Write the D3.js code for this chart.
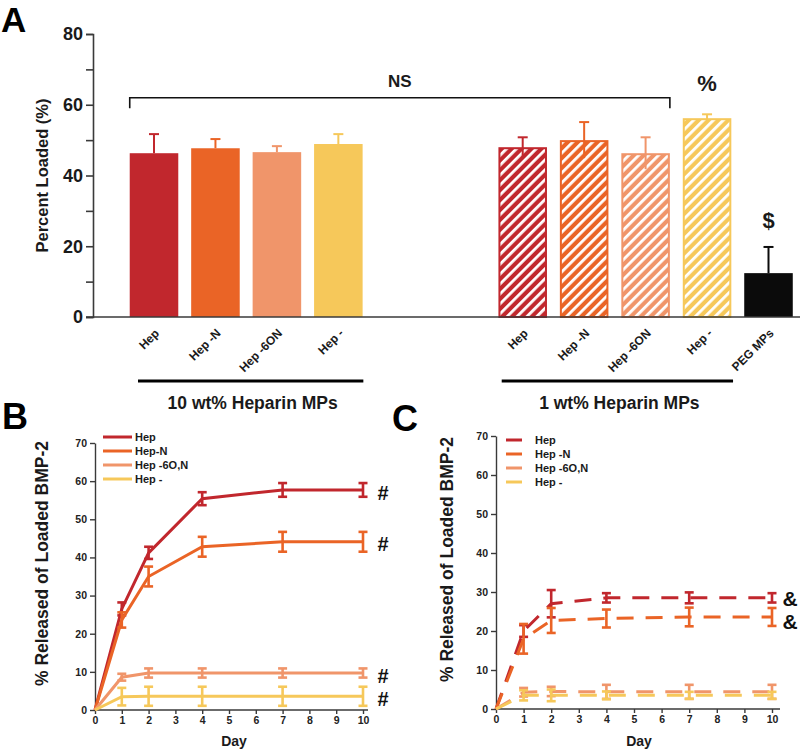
<!DOCTYPE html>
<html><head><meta charset="utf-8">
<script src="https://cdn.jsdelivr.net/npm/d3@7"></script>
<style>
body{margin:0;background:#fff;}
svg{display:block;font-family:"Liberation Sans",Arial,sans-serif;font-weight:bold;}
</style></head>
<body>
<svg id="chart" width="800" height="751"></svg>
<script>
// ---------- DATA ----------
const seriesColors = ["#c1272d", "#ea6426", "#f0956a", "#f6c85a"];
const pegColor = "#0b0b0b";

// Panel A
const barLabels10 = ["Hep", "Hep -N", "Hep -6ON", "Hep -"];
const barValues10 = [46.3, 47.7, 46.6, 48.9];
const barErrors10 = [5.4, 2.6, 1.7, 2.8];
const barLabels1 = ["Hep", "Hep -N", "Hep -6ON", "Hep -", "PEG MPs"];
const barValues1 = [48.0, 50.0, 46.3, 56.2, 12.4];
const barErrors1 = [2.8, 5.1, 4.5, 1.1, 7.4];
const groupLabels = ["10 wt% Heparin MPs", "1 wt% Heparin MPs"];
const yTicksA = [0, 10, 20, 30, 40, 50, 60, 70, 80];

// Panels B and C
const days = [0, 1, 2, 4, 7, 10];
const dayTicks = [0, 1, 2, 3, 4, 5, 6, 7, 8, 9, 10];
const releaseTicks = [0, 10, 20, 30, 40, 50, 60, 70];
const legendB = ["Hep", "Hep-N", "Hep -6O,N", "Hep -"];
const legendC = ["Hep", "Hep -N", "Hep -6O,N", "Hep -"];

const bHep = [0, 26.5, 41.2, 55.4, 57.7, 57.7];
const bHepErr = [0, 1.7, 1.6, 1.7, 1.8, 1.8];
const bHepN = [0, 23.6, 35.0, 42.8, 44.1, 44.1];
const bHepNErr = [0, 2.0, 2.6, 2.6, 2.6, 2.6];
const bHep6ON = [0, 8.6, 9.7, 9.7, 9.7, 9.7];
const bHep6ONErr = [0, 0.9, 1.2, 1.2, 1.2, 1.2];
const bHepMinus = [0, 3.5, 3.6, 3.6, 3.6, 3.6];
const bHepMinusErr = [0, 2.3, 2.5, 2.5, 2.5, 2.5];

const cHep = [0, 20.0, 27.0, 28.5, 28.5, 28.5];
const cHepErr = [0, 1.5, 3.5, 1.2, 1.4, 1.2];
const cHepN = [0, 18.0, 22.7, 23.2, 23.6, 23.6];
const cHepNErr = [0, 3.8, 3.2, 2.3, 2.4, 2.3];
const cHep6ON = [0, 4.3, 4.5, 4.4, 4.4, 4.4];
const cHep6ONErr = [0, 1.1, 1.2, 1.8, 1.8, 1.8];
const cHepMinus = [0, 3.5, 3.5, 3.5, 3.5, 3.5];
const cHepMinusErr = [0, 1.3, 1.5, 1.0, 0.9, 0.9];

// ---------- DRAW ----------
const svg = d3.select("#chart");
const defs = svg.append("defs");
const textCol = "#1a1a1a";
const axisCol = "#3a3a3a";

seriesColors.forEach((c, i) => {
  const p = defs.append("pattern").attr("id", "hatch" + i)
    .attr("patternUnits", "userSpaceOnUse").attr("width", 7).attr("height", 7)
    .attr("patternTransform", "rotate(45)");
  p.append("rect").attr("width", 7).attr("height", 7).attr("fill", c);
  p.append("rect").attr("width", 2.8).attr("height", 7).attr("fill", "#fff");
});

// ===== Panel A =====
const slots = d3.range(11);
const xA = d3.scalePoint().domain(slots).range([154, 768.5]);
const barW = xA.step() * 0.79;
const yA = d3.scaleLinear().domain([0, 80]).range([317, 34]);

const barsA = [];
barLabels10.forEach((l, i) => barsA.push({slot: i, label: l, v: barValues10[i], e: barErrors10[i], color: seriesColors[i], hatch: false, idx: i}));
barLabels1.forEach((l, i) => barsA.push({slot: 6 + i, label: l, v: barValues1[i], e: barErrors1[i], color: i < 4 ? seriesColors[i] : pegColor, hatch: i < 4, idx: i}));

const gA = svg.append("g");
barsA.filter(d => !d.hatch).forEach(d => {
  const cx = xA(d.slot);
  const eg = gA.append("g").attr("stroke", d.color).attr("stroke-width", 2);
  eg.append("line").attr("x1", cx).attr("x2", cx).attr("y1", yA(d.v)).attr("y2", yA(d.v + d.e));
  eg.append("line").attr("x1", cx - 5).attr("x2", cx + 5).attr("y1", yA(d.v + d.e)).attr("y2", yA(d.v + d.e));
});
gA.selectAll("rect.bar").data(barsA).join("rect").attr("class", "bar")
  .attr("x", d => xA(d.slot) - barW / 2 + (d.hatch ? 1 : 0))
  .attr("width", d => barW - (d.hatch ? 2 : 0))
  .attr("y", d => yA(d.v) + (d.hatch ? 1 : 0))
  .attr("height", d => yA(0) - yA(d.v) - (d.hatch ? 1 : 0))
  .attr("fill", d => d.hatch ? `url(#hatch${d.idx})` : d.color)
  .attr("stroke", d => d.hatch ? d.color : "none")
  .attr("stroke-width", 2);
barsA.filter(d => d.hatch).forEach(d => {
  const cx = xA(d.slot);
  const eg = gA.append("g").attr("stroke", d.color).attr("stroke-width", 2);
  eg.append("line").attr("x1", cx).attr("x2", cx).attr("y1", yA(d.v - d.e)).attr("y2", yA(d.v + d.e));
  eg.append("line").attr("x1", cx - 5).attr("x2", cx + 5).attr("y1", yA(d.v + d.e)).attr("y2", yA(d.v + d.e));
});
// y axis
const axA = svg.append("g").attr("transform", "translate(93,0)")
  .call(d3.axisLeft(yA).tickValues(yTicksA).tickSize(7).tickPadding(3)
    .tickFormat(v => v % 20 === 0 ? v : ""));
axA.select(".domain").attr("stroke", axisCol).attr("stroke-width", 1.6);
axA.selectAll(".tick line").attr("stroke", axisCol).attr("stroke-width", 1.6);
axA.selectAll(".tick text").attr("fill", textCol).style("font-size", "18px").style("font-weight", "bold").style("font-family", "Liberation Sans, Arial");
// baseline
svg.append("line").attr("x1", 86).attr("x2", 800).attr("y1", yA(0)).attr("y2", yA(0))
  .attr("stroke", axisCol).attr("stroke-width", 1.6);
// y title
svg.append("text").attr("transform", `translate(48,${yA(40)}) rotate(-90)`)
  .attr("text-anchor", "middle").attr("font-size", 16.5).attr("fill", textCol).text("Percent Loaded (%)");
// x tick labels
gA.selectAll("text.xl").data(barsA).join("text").attr("class", "xl")
  .attr("transform", d => `translate(${xA(d.slot) + 3},${331}) rotate(-45)`)
  .attr("text-anchor", "end").attr("dy", "0.35em").attr("font-size", 12).attr("fill", textCol)
  .text(d => d.label);
// group lines
const groups = [
  {x1: xA(0) - 16, x2: xA(3) + 25, label: groupLabels[0]},
  {x1: xA(6) - 21, x2: xA(9) + 26, label: groupLabels[1]}
];
groups.forEach(g => {
  svg.append("line").attr("x1", g.x1).attr("x2", g.x2).attr("y1", 381).attr("y2", 381)
    .attr("stroke", "#000").attr("stroke-width", 3);
  svg.append("text").attr("x", (g.x1 + g.x2) / 2 + 2).attr("y", 409).attr("text-anchor", "middle")
    .attr("font-size", 17.5).attr("fill", textCol).text(g.label);
});
// NS bracket
const bx1 = xA(0) - barW / 2, bx2 = xA(8) + barW / 2;
svg.append("path").attr("d", `M${bx1},${yA(59)}V${yA(62)}H${bx2}V${yA(59)}`)
  .attr("fill", "none").attr("stroke", "#111").attr("stroke-width", 1.6);
svg.append("text").attr("x", (bx1 + bx2) / 2).attr("y", yA(65)).attr("text-anchor", "middle")
  .attr("font-size", 17).attr("fill", textCol).text("NS");
svg.append("text").attr("x", xA(9)).attr("y", yA(63.8)).attr("text-anchor", "middle")
  .attr("font-size", 22).attr("fill", textCol).text("%");
svg.append("text").attr("x", xA(10)).attr("y", yA(25.3)).attr("text-anchor", "middle")
  .attr("font-size", 22).attr("fill", textCol).text("$");

// panel letters
svg.append("text").attr("x", 1).attr("y", 32).attr("font-size", 35).attr("fill", "#000").text("A");
svg.append("text").attr("x", 2).attr("y", 429).attr("font-size", 36).attr("fill", "#000").text("B");
svg.append("text").attr("x", 392).attr("y", 431).attr("font-size", 36).attr("fill", "#000").text("C");

// ===== Panels B & C =====
function linePanel(cfg) {
  const x = d3.scaleLinear().domain([0, 10]).range(cfg.xr);
  const y = d3.scaleLinear().domain([0, 70]).range(cfg.yr);
  const g = svg.append("g");
  const ax = g.append("g").attr("transform", `translate(0,${cfg.yr[0]})`)
    .call(d3.axisBottom(x).tickValues(dayTicks).tickSize(4).tickSizeOuter(0).tickPadding(3));
  ax.select(".domain").remove();
  g.append("line").attr("x1", cfg.xr[0]).attr("x2", cfg.xr[1] + cfg.ext).attr("y1", cfg.yr[0]).attr("y2", cfg.yr[0])
    .attr("stroke", axisCol).attr("stroke-width", 1.4);
  const ay = g.append("g").attr("transform", `translate(${cfg.xr[0]},0)`)
    .call(d3.axisLeft(y).tickValues(releaseTicks).tickSize(5).tickSizeOuter(0).tickPadding(3));
  [ax, ay].forEach(a => {
    a.select(".domain").attr("stroke", axisCol).attr("stroke-width", 1.4);
    a.selectAll(".tick line").attr("stroke", axisCol).attr("stroke-width", 1.4);
    a.selectAll(".tick text").attr("fill", "#222").style("font-size", "10.5px").style("font-weight", "bold").style("font-family", "Liberation Sans, Arial");
  });
  g.append("text").attr("x", (cfg.xr[0] + cfg.xr[1]) / 2 + 5).attr("y", 746).attr("text-anchor", "middle")
    .attr("font-size", 14).attr("fill", textCol).text("Day");
  g.append("text").attr("transform", `translate(${cfg.titleX},${(cfg.yr[0] + cfg.yr[1]) / 2 - 13}) rotate(-90)`)
    .attr("text-anchor", "middle").attr("font-size", 17.5).attr("fill", textCol).text("% Released of Loaded BMP-2");

  const line = d3.line().x((d, i) => x(days[i])).y(d => y(d));
  cfg.series.forEach((s, si) => {
    const col = seriesColors[si];
    const sg = g.append("g");
    s.v.forEach((v, i) => {
      if (!s.e[i]) return;
      const cx = x(days[i]);
      const eg = sg.append("g").attr("stroke", col).attr("stroke-width", 2.6);
      eg.append("line").attr("x1", cx).attr("x2", cx).attr("y1", y(v - s.e[i])).attr("y2", y(v + s.e[i]));
      [v - s.e[i], v + s.e[i]].forEach(t => eg.append("line").attr("x1", cx - 4.5).attr("x2", cx + 4.5).attr("y1", y(t)).attr("y2", y(t)));
    });
    sg.append("path").datum(s.v).attr("d", line).attr("fill", "none").attr("stroke", col)
      .attr("stroke-width", 3).attr("stroke-dasharray", cfg.dash || null);
  });
  cfg.series.forEach((s, si) => {
    if (!cfg.marks[si]) return;
    g.append("text").attr("x", x(10) + cfg.markDx).attr("y", y(s.v[5]) + cfg.markDy[si])
      .attr("text-anchor", "middle").attr("dominant-baseline", "central")
      .attr("font-size", cfg.markSize).attr("fill", "#111").text(cfg.marks[si]);
  });
  cfg.legend.forEach((l, i) => {
    const ly = cfg.legY + i * 14;
    g.append("line").attr("x1", cfg.legX1).attr("x2", cfg.legX2).attr("y1", ly).attr("y2", ly)
      .attr("stroke", seriesColors[i]).attr("stroke-width", 3);
    g.append("text").attr("x", cfg.legT).attr("y", ly).attr("dominant-baseline", "central")
      .attr("font-size", 11).attr("fill", textCol).text(l);
  });
}

linePanel({
  xr: [95, 363], yr: [710, 443], ext: 5, titleX: 48,
  series: [{v: bHep, e: bHepErr}, {v: bHepN, e: bHepNErr}, {v: bHep6ON, e: bHep6ONErr}, {v: bHepMinus, e: bHepMinusErr}],
  marks: ["#", "#", "#", "#"], markDx: 20, markDy: [3, 2, 3, 3], markSize: 20,
  legend: legendB, legY: 437, legX1: 103, legX2: 132, legT: 135
});
linePanel({
  xr: [496, 772], yr: [709, 436], ext: 8, titleX: 453,
  dash: "17,12",
  series: [{v: cHep, e: cHepErr}, {v: cHepN, e: cHepNErr}, {v: cHep6ON, e: cHep6ONErr}, {v: cHepMinus, e: cHepMinusErr}],
  marks: ["&", "&", null, null], markDx: 18, markDy: [1, 5], markSize: 21,
  legend: legendC, legY: 440, legX1: 506, legX2: 522, legT: 535
});
</script>
</body></html>
